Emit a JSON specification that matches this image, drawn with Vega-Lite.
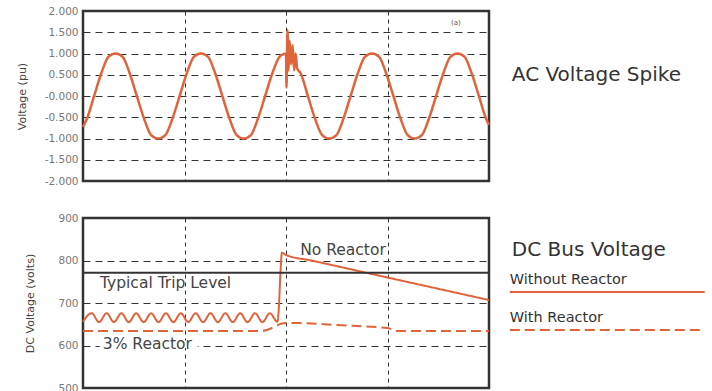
{
  "$schema": "https://vega.github.io/schema/vega-lite/v6.json",
  "padding": {"left": 14, "top": 4, "right": 0, "bottom": 0},
  "bounds": "flush",
  "spacing": 37,
  "datasets": {
    "ac": [
      {"t": 0, "v": -0.73}, {"t": 0.79, "v": -0.53}, {"t": 2.19, "v": 0}, {"t": 3.59, "v": 0.53},
      {"t": 5.0, "v": 0.92}, {"t": 6.4, "v": 1}, {"t": 7.81, "v": 0.92}, {"t": 9.21, "v": 0.53},
      {"t": 10.61, "v": 0}, {"t": 12.02, "v": -0.53}, {"t": 13.42, "v": -0.92}, {"t": 14.83, "v": -1},
      {"t": 16.23, "v": -0.92}, {"t": 17.63, "v": -0.53}, {"t": 19.04, "v": 0}, {"t": 20.44, "v": 0.53},
      {"t": 21.85, "v": 0.92}, {"t": 23.25, "v": 1}, {"t": 24.65, "v": 0.92}, {"t": 26.06, "v": 0.53},
      {"t": 27.46, "v": 0}, {"t": 28.87, "v": -0.53}, {"t": 30.27, "v": -0.92}, {"t": 31.67, "v": -1},
      {"t": 33.08, "v": -0.92}, {"t": 34.48, "v": -0.53}, {"t": 35.89, "v": 0}, {"t": 37.29, "v": 0.53},
      {"t": 38.69, "v": 0.92}, {"t": 39.6, "v": 0.99}, {"t": 40.0, "v": 1.0}, {"t": 40.1, "v": 0.2},
      {"t": 40.3, "v": 1.55}, {"t": 40.5, "v": 0.6}, {"t": 40.7, "v": 1.3}, {"t": 41.0, "v": 0.75},
      {"t": 41.3, "v": 1.2}, {"t": 41.6, "v": 0.6}, {"t": 41.9, "v": 1.0}, {"t": 42.2, "v": 0.65},
      {"t": 42.91, "v": 0.53}, {"t": 44.31, "v": 0}, {"t": 45.71, "v": -0.53}, {"t": 47.12, "v": -0.92},
      {"t": 48.52, "v": -1}, {"t": 49.93, "v": -0.92}, {"t": 51.33, "v": -0.53}, {"t": 52.73, "v": 0},
      {"t": 54.14, "v": 0.53}, {"t": 55.54, "v": 0.92}, {"t": 56.95, "v": 1}, {"t": 58.35, "v": 0.92},
      {"t": 59.75, "v": 0.53}, {"t": 61.16, "v": 0}, {"t": 62.56, "v": -0.53}, {"t": 63.97, "v": -0.92},
      {"t": 65.37, "v": -1}, {"t": 66.77, "v": -0.92}, {"t": 68.18, "v": -0.53}, {"t": 69.58, "v": 0},
      {"t": 70.99, "v": 0.53}, {"t": 72.39, "v": 0.92}, {"t": 73.79, "v": 1}, {"t": 75.2, "v": 0.92},
      {"t": 76.6, "v": 0.53}, {"t": 78.01, "v": 0}, {"t": 79.41, "v": -0.53}, {"t": 80, "v": -0.68}
    ],
    "dc": [
      {"series": "Without Reactor", "t": 0, "v": 656}, {"series": "Without Reactor", "t": 1.71, "v": 676},
      {"series": "Without Reactor", "t": 3.17, "v": 655}, {"series": "Without Reactor", "t": 4.64, "v": 676},
      {"series": "Without Reactor", "t": 6.1, "v": 655}, {"series": "Without Reactor", "t": 7.56, "v": 676},
      {"series": "Without Reactor", "t": 9.03, "v": 655}, {"series": "Without Reactor", "t": 10.49, "v": 676},
      {"series": "Without Reactor", "t": 11.95, "v": 655}, {"series": "Without Reactor", "t": 13.41, "v": 676},
      {"series": "Without Reactor", "t": 14.88, "v": 655}, {"series": "Without Reactor", "t": 16.34, "v": 676},
      {"series": "Without Reactor", "t": 17.8, "v": 655}, {"series": "Without Reactor", "t": 19.27, "v": 676},
      {"series": "Without Reactor", "t": 20.73, "v": 655}, {"series": "Without Reactor", "t": 22.19, "v": 676},
      {"series": "Without Reactor", "t": 23.66, "v": 655}, {"series": "Without Reactor", "t": 25.12, "v": 676},
      {"series": "Without Reactor", "t": 26.58, "v": 655}, {"series": "Without Reactor", "t": 28.04, "v": 676},
      {"series": "Without Reactor", "t": 29.51, "v": 655}, {"series": "Without Reactor", "t": 30.97, "v": 676},
      {"series": "Without Reactor", "t": 32.43, "v": 655}, {"series": "Without Reactor", "t": 33.9, "v": 676},
      {"series": "Without Reactor", "t": 35.36, "v": 655}, {"series": "Without Reactor", "t": 36.82, "v": 676},
      {"series": "Without Reactor", "t": 38.29, "v": 656}, {"series": "Without Reactor", "t": 38.6, "v": 690},
      {"series": "Without Reactor", "t": 38.9, "v": 770}, {"series": "Without Reactor", "t": 39.2, "v": 818},
      {"series": "Without Reactor", "t": 40.0, "v": 813}, {"series": "Without Reactor", "t": 45, "v": 800},
      {"series": "Without Reactor", "t": 60, "v": 760}, {"series": "Without Reactor", "t": 80, "v": 707},
      {"series": "With Reactor", "t": 0, "v": 634}, {"series": "With Reactor", "t": 35, "v": 634},
      {"series": "With Reactor", "t": 36, "v": 636}, {"series": "With Reactor", "t": 37, "v": 640},
      {"series": "With Reactor", "t": 38, "v": 646}, {"series": "With Reactor", "t": 39, "v": 651},
      {"series": "With Reactor", "t": 40, "v": 653}, {"series": "With Reactor", "t": 42, "v": 653},
      {"series": "With Reactor", "t": 50, "v": 648}, {"series": "With Reactor", "t": 60, "v": 641},
      {"series": "With Reactor", "t": 62, "v": 634}, {"series": "With Reactor", "t": 80, "v": 634}
    ]
  },
  "vconcat": [
    {
      "width": 406,
      "height": 170,
      "layer": [
        {
          "data": {"name": "ac"},
          "mark": {"type": "line", "color": "#E0633A", "strokeWidth": 2.5, "interpolate": "monotone"},
          "encoding": {
            "x": {"field": "t", "type": "quantitative", "scale": {"domain": [0, 80]},
                  "axis": {"values": [20, 40, 60], "tickCount": 10, "labels": false, "title": null, "gridDash": [4, 4]}},
            "y": {"field": "v", "type": "quantitative", "scale": {"domain": [-2, 2]},
                  "axis": {"values": [-2, -1.5, -1, -0.5, 0, 0.5, 1, 1.5, 2], "tickCount": 20, "labelOverlap": false,
                           "labelExpr": "datum.value == 0 ? '-0.000' : replace(format(datum.value, '.3f'), '\u2212', '-')",
                           "title": "Voltage (pu)", "titlePadding": 17}}
          }
        },
        {
          "data": {"values": [{}]},
          "mark": {"type": "text", "align": "left", "baseline": "middle", "font": "DejaVu Sans", "fontSize": 20, "color": "#333"},
          "encoding": {"x": {"datum": 84.5}, "y": {"datum": 0.5}, "text": {"value": "AC Voltage Spike"}}
        },
        {
          "data": {"values": [{}]},
          "mark": {"type": "text", "align": "left", "baseline": "middle", "font": "DejaVu Sans", "fontSize": 7, "color": "#555"},
          "encoding": {"x": {"datum": 72.5}, "y": {"datum": 1.72}, "text": {"value": "(a)"}}
        }
      ]
    },
    {
      "width": 406,
      "height": 170,
      "layer": [
        {
          "data": {"name": "dc"},
          "mark": {"type": "line", "color": "#E0633A", "strokeWidth": 2, "interpolate": "monotone"},
          "encoding": {
            "x": {"field": "t", "type": "quantitative", "scale": {"domain": [0, 80]},
                  "axis": {"values": [20, 40, 60], "tickCount": 10, "labels": false, "title": null, "gridDash": [4, 4]}},
            "y": {"field": "v", "type": "quantitative", "scale": {"domain": [500, 900]},
                  "axis": {"values": [500, 600, 700, 800, 900], "tickCount": 10, "labelOverlap": false, "title": "DC Voltage (volts)", "titlePadding": 22}},
            "strokeDash": {
              "field": "series", "type": "nominal",
              "scale": {"domain": ["Without Reactor", "With Reactor"], "range": [[1, 0], [10, 5]]},
              "legend": null
            }
          }
        },
        {
          "data": {"values": [{}]},
          "mark": {"type": "rule", "color": "#333", "strokeWidth": 2},
          "encoding": {"y": {"datum": 771}}
        },
        {
          "data": {"values": [{}]},
          "mark": {"type": "rect", "color": "white"},
          "encoding": {"x": {"datum": 3.3}, "x2": {"datum": 22.6}, "y": {"datum": 594}, "y2": {"datum": 612}}
        },
        {
          "data": {"values": [{}]},
          "mark": {"type": "text", "align": "left", "baseline": "middle", "font": "DejaVu Sans", "fontSize": 15.5, "color": "#444"},
          "encoding": {"x": {"datum": 3.35}, "y": {"datum": 746}, "text": {"value": "Typical Trip Level"}}
        },
        {
          "data": {"values": [{}]},
          "mark": {"type": "text", "align": "left", "baseline": "middle", "font": "DejaVu Sans", "fontSize": 15.5, "color": "#444"},
          "encoding": {"x": {"datum": 3.9}, "y": {"datum": 602.5}, "text": {"value": "3% Reactor"}}
        },
        {
          "data": {"values": [{}]},
          "mark": {"type": "text", "align": "left", "baseline": "middle", "font": "DejaVu Sans", "fontSize": 15.5, "color": "#444"},
          "encoding": {"x": {"datum": 42.8}, "y": {"datum": 824}, "text": {"value": "No Reactor"}}
        },
        {
          "data": {"values": [{}]},
          "mark": {"type": "text", "align": "left", "baseline": "middle", "font": "DejaVu Sans", "fontSize": 20, "color": "#333"},
          "encoding": {"x": {"datum": 84.5}, "y": {"datum": 825}, "text": {"value": "DC Bus Voltage"}}
        },
        {
          "data": {"values": [{}]},
          "mark": {"type": "text", "align": "left", "baseline": "middle", "font": "DejaVu Sans", "fontSize": 14.5, "color": "#333"},
          "encoding": {"x": {"datum": 84.1}, "y": {"datum": 754}, "text": {"value": "Without Reactor"}}
        },
        {
          "data": {"values": [{}]},
          "mark": {"type": "rule", "color": "#E0633A", "strokeWidth": 2},
          "encoding": {"x": {"datum": 84.1}, "x2": {"datum": 122.5}, "y": {"datum": 726}}
        },
        {
          "data": {"values": [{}]},
          "mark": {"type": "text", "align": "left", "baseline": "middle", "font": "DejaVu Sans", "fontSize": 14.5, "color": "#333"},
          "encoding": {"x": {"datum": 84.1}, "y": {"datum": 665}, "text": {"value": "With Reactor"}}
        },
        {
          "data": {"values": [{}]},
          "mark": {"type": "rule", "color": "#E0633A", "strokeWidth": 2, "strokeDash": [10, 5]},
          "encoding": {"x": {"datum": 84.1}, "x2": {"datum": 122.5}, "y": {"datum": 636.5}}
        }
      ]
    }
  ],
  "config": {
    "view": {"stroke": "#333", "strokeWidth": 2.5},
    "axis": {
      "labelFont": "DejaVu Sans", "labelFontSize": 10.5, "labelColor": "#777",
      "titleFont": "DejaVu Sans", "titleFontSize": 11, "titleFontWeight": "normal", "titleColor": "#444",
      "ticks": false, "domain": false, "labelPadding": 5,
      "grid": true, "gridColor": "#333", "gridDash": [7, 5], "gridWidth": 1, "gridOpacity": 1
    }
  }
}
